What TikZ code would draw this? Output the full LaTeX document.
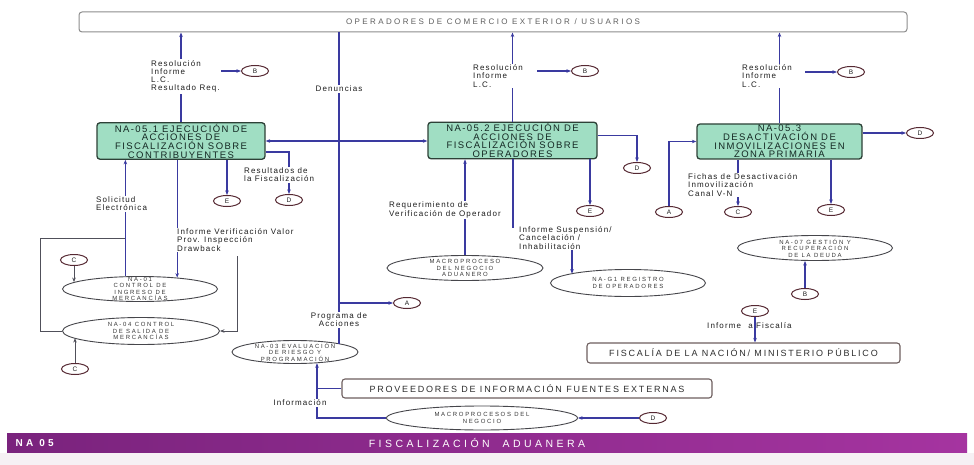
\documentclass[tikz,border=0pt]{standalone}
\usepackage{fontspec}
\setmainfont{Liberation Sans}
\newfontfamily\labf[LetterSpace=14]{Liberation Sans}
\newfontfamily\topf[LetterSpace=30]{Liberation Sans}
\newfontfamily\boxf[LetterSpace=15]{Liberation Sans}
\newfontfamily\ellf[LetterSpace=28]{Liberation Sans}
\newfontfamily\bigf[LetterSpace=20]{Liberation Sans}
\newfontfamily\barf[LetterSpace=33]{Liberation Sans}
\usetikzlibrary{shapes.geometric,arrows.meta}
\definecolor{connc}{RGB}{58,58,160}
\definecolor{gline}{RGB}{80,80,90}
\definecolor{boxgreen}{RGB}{160,222,195}
\definecolor{boxedge}{RGB}{45,65,55}
\definecolor{boxtext}{RGB}{20,40,35}
\definecolor{circc}{RGB}{85,40,50}
\definecolor{txt}{RGB}{30,30,30}
\definecolor{ellc}{RGB}{70,70,75}
\definecolor{ellt}{RGB}{55,55,55}
\definecolor{topc}{RGB}{140,140,140}
\definecolor{topt}{RGB}{95,95,95}
\definecolor{wboxc}{RGB}{110,95,95}
\definecolor{bigt}{RGB}{45,45,45}
\definecolor{barcolL}{RGB}{122,35,125}
\definecolor{barcolR}{RGB}{165,52,160}
\definecolor{lowpink}{RGB}{246,240,244}
\begin{document}
\begin{tikzpicture}[x=1pt,y=-1pt,
  conn/.style={draw=connc,line width=1.1pt},
  gconn/.style={draw=gline,line width=0.9pt},
  arr/.style={-{Stealth[length=4.5pt,width=3.5pt]}},
  arrb/.style={{Stealth[length=4.5pt,width=3.5pt]}-{Stealth[length=4.5pt,width=3.5pt]}},
  greenbox/.style={draw=boxedge,fill=boxgreen,line width=1.3pt,rounded corners=3pt,minimum width=168pt,minimum height=35pt,inner sep=1pt,align=center,font=\boxf\fontsize{9.5}{8.7}\selectfont,text=boxtext},
  lab/.style={font=\labf\fontsize{8}{8.2}\selectfont,text=txt,align=left,inner sep=1pt,fill=white},
  letter/.style={ellipse,draw=circc,line width=1pt,minimum width=27pt,minimum height=11pt,inner sep=0pt,font=\fontsize{6.5}{6.5}\selectfont,text=txt},
  ell/.style={ellipse,draw=ellc,line width=0.9pt,inner sep=0pt},
  elltext/.style={font=\ellf\fontsize{6}{6.5}\selectfont,text=ellt,align=center,inner sep=0pt},
  wbox/.style={draw=wboxc,line width=1.1pt,rounded corners=3pt,inner sep=0pt,font=\bigf\fontsize{9}{10}\selectfont,text=bigt}
]
\useasboundingbox (0,0) rectangle (974,465);
\fill[white] (0,0) rectangle (974,465);

% top box
\node[draw=topc,line width=1pt,rounded corners=3pt,minimum width=828pt,minimum height=20pt,inner sep=0pt,font=\topf\fontsize{8}{9}\selectfont,text=topt] (top) at (493,22) {OPERADORES DE COMERCIO EXTERIOR / USUARIOS};

% green boxes
\node[greenbox] (na051) at (181,141) {NA-05.1 EJECUCIÓN DE\\ACCIONES DE\\FISCALIZACIÓN SOBRE\\CONTRIBUYENTES};
\node[greenbox,minimum width=169pt] (na052) at (512.5,140.5) {NA-05.2 EJECUCIÓN DE\\ACCIONES DE\\FISCALIZACIÓN SOBRE\\OPERADORES};
\node[greenbox,minimum width=165pt] (na053) at (779.5,141.5) {NA-05.3\\DESACTIVACIÓN DE\\INMOVILIZACIONES EN\\ZONA PRIMARIA};

% letter circles
\node[letter] (B1) at (255,71) {B};
\node[letter] (B2) at (585,71) {B};
\node[letter] (B3) at (851,72) {B};
\node[letter] (D1) at (289,200) {D};
\node[letter] (E1) at (227,201) {E};
\node[letter] (D2) at (637,168) {D};
\node[letter] (E2) at (590,211) {E};
\node[letter] (D3) at (920,133) {D};
\node[letter] (A2) at (669,212) {A};
\node[letter] (C2) at (738,212) {C};
\node[letter] (E3) at (831,210) {E};
\node[letter] (B4) at (805,294) {B};
\node[letter] (E4) at (755,311) {E};
\node[letter] (A1) at (407,303) {A};
\node[letter] (C1) at (74,260) {C};
\node[letter] (C3) at (75,369) {C};
\node[letter] (D4) at (653,418) {D};

% ellipses
\node[ell,minimum width=155pt,minimum height=25pt] (na01) at (140,289) {};
\node[elltext] (na01t) at (na01) {NA-01\\CONTROL DE\\INGRESO DE\\MERCANCÍAS};
\node[ell,minimum width=157pt,minimum height=27pt] (na04) at (141,331) {};
\node[elltext] (na04t) at (na04) {NA-04 CONTROL\\DE SALIDA DE\\MERCANCÍAS};
\node[ell,minimum width=126pt,minimum height=23pt] (na03) at (295,352) {};
\node[elltext] (na03t) at (na03) {NA-03 EVALUACIÓN\\DE RIESGO Y\\PROGRAMACIÓN};
\node[ell,minimum width=156pt,minimum height=25pt] (mac) at (465,268) {};
\node[elltext] (mact) at (mac) {MACROPROCESO\\DEL NEGOCIO\\ADUANERO};
\node[ell,minimum width=155pt,minimum height=27pt] (reg) at (628,283) {};
\node[elltext] (regt) at (reg) {NA-G1 REGISTRO\\DE OPERADORES};
\node[ell,minimum width=155pt,minimum height=25pt] (na07) at (815,248) {};
\node[elltext] (na07t) at (na07) {NA-07 GESTIÓN Y\\RECUPERACIÓN\\DE LA DEUDA};
\node[ell,minimum width=191pt,minimum height=24pt] (mneg) at (482,418) {};
\node[elltext] (mnegt) at (mneg) {MACROPROCESOS DEL\\NEGOCIO};

% white boxes
\node[wbox,minimum width=313pt,minimum height=20pt] (fisc) at (743.5,353) {FISCALÍA DE LA NACIÓN/ MINISTERIO PÚBLICO};
\node[wbox,minimum width=370pt,minimum height=19pt] (prov) at (527,388.5) {PROVEEDORES DE INFORMACIÓN FUENTES EXTERNAS};

% connectors: top row
\draw[conn,arr] (na051.north) -- (na051.north |- top.south);
\draw[conn,arr] (na052.north) -- (na052.north |- top.south);
\draw[conn,arr] (na053.north) -- (na053.north |- top.south);
\coordinate (b1s) at (217,71);
\coordinate (b2s) at (537,71);
\coordinate (b3s) at (805,72);
\draw[conn,arr] (b1s) -- (B1.west);
\draw[conn,arr] (b2s) -- (B2.west);
\draw[conn,arr] (b3s) -- (B3.west);

% denuncias / programa
\coordinate (den) at (339,32);
\draw[conn] (den) -- (den |- na03.10);
\draw[conn,arrb] (na051.east) -- (na051.east -| na052.west);
\draw[conn,arr] (den |- A1) -- (A1.west);

% NA-05.2
\draw[conn,arr] (mac.north) -- (mac.north |- na052.south);
\draw[conn,arr] ([yshift=5pt]na052.east) -| (D2.north);
\draw[conn,arr] (na052.south -| E2) -- (E2.north);
\coordinate (sus1) at (513,228);
\draw[conn] (na052.south -| sus1) -- (sus1);
\coordinate (sus2) at (572,250);
\draw[conn,arr] (sus2) -- (sus2 |- reg.171);

% NA-05.3
\draw[conn,arr] (na053.east |- D3) -- (D3.west);
\draw[conn,arr] (A2.north) |- (na053.west);
\draw[conn,arr] (na053.south -| C2) -- (C2.north);
\draw[conn,arr] (na053.south -| E3) -- (E3.north);
\draw[conn,arr] (B4.north) -- (B4.north |- na07.south);
\draw[conn,arr] (E4.south) -- (E4.south |- fisc.north);

% bottom
\draw[conn,arr] (mneg.west) -| (na03.-27);
\draw[conn] (prov.west) -- (prov.west -| na03.-27);
\draw[conn,arr] (D4.west) -- (mneg.east);

% NA-05.1 and left
\draw[conn,arr] (na01.139) -- (na01.139 |- na051.south);
\draw[conn,arr] (na051.south -| na01.17) -- (na01.17);
\draw[conn,arr] ([yshift=-11pt]na051.east) -| (D1.north);
\draw[conn,arr] (na051.south -| E1) -- (E1.north);
\coordinate (drw) at (237,256);
\draw[gconn,arr] (drw) |- (na04.east);
\coordinate (lp) at (40,238);
\draw[gconn] (na04.west) -| (lp) -- (lp -| na01.139);
\draw[gconn,arr] (C1.south) -- (C1.south |- na01.174);
\draw[gconn,arr] (C3.north) -- (C3.north |- na04.-174);

% labels
\node[lab,anchor=west] (labres1) at (150,76.5) {Resolución\\Informe\\L.C.\\Resultado Req.};
\node[lab,anchor=west] (labres2) at (472,76) {Resolución\\Informe\\L.C.};
\node[lab,anchor=west] (labres3) at (741,76) {Resolución\\Informe\\L.C.};
\node[lab,align=center] (labden) at (339,89) {Denuncias};
\node[lab,align=center] (labprog) at (339,320) {Programa de\\Acciones};
\node[lab,anchor=west] (labfis1) at (243,175) {Resultados de\\la Fiscalización};
\node[lab,anchor=west] (labsol) at (95,204) {Solicitud\\Electrónica};
\node[lab,anchor=west] (labinf) at (176,240) {Informe Verificación Valor\\Prov. Inspección\\Drawback};
\node[lab,anchor=west] (labreq) at (388,210) {Requerimiento de\\Verificación de Operador};
\node[lab,anchor=west] (labsus) at (518,238) {Informe Suspensión/\\Cancelación /\\Inhabilitación};
\node[lab,anchor=west] (labfich) at (687,185) {Fichas de Desactivación\\Inmovilización\\Canal V-N};
\node[lab] (labinfo) at (300,403) {Información};
\node[lab,fill=none,anchor=west] (labfisc) at (706,326) {Informe\hspace{4pt} a Fiscalía};

% bottom bar
\fill[lowpink] (0,453) rectangle (974,465);
\shade[left color=barcolL,right color=barcolR] (7,433) rectangle (967,452);
\node[font=\barf\bfseries\fontsize{10}{10}\selectfont,text=white,anchor=west] (barleft) at (12,443) {NA 05};
\node[font=\barf\fontsize{10.5}{11}\selectfont,text=white] (bartitle) at (477,443) {FISCALIZACIÓN\ \ ADUANERA};
\end{tikzpicture}
\end{document}
